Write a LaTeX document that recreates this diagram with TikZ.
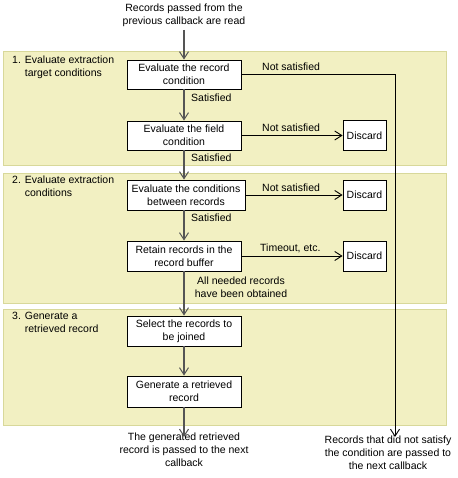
\documentclass[tikz,border=0pt]{standalone}
\usepackage{fontspec}
\setmainfont{Liberation Sans}
\usetikzlibrary{arrows.meta}
\definecolor{bandfill}{HTML}{F2F0C2}
\definecolor{banddraw}{HTML}{D8D89A}
\definecolor{flowgray}{HTML}{555555}
\tikzset{
  band/.style={fill=bandfill,draw=banddraw,line width=1pt},
  box/.style={draw=black,fill=white,line width=0.9pt,align=center,inner sep=0pt,minimum height=29pt},
  mainbox/.style={box,minimum width=114pt},
  discardbox/.style={box,minimum width=43pt,minimum height=30pt},
  lbl/.style={inner sep=0pt,font=\fontsize{10.5}{13}\selectfont},
  mainflow/.style={draw=flowgray,line width=1.4pt,-{Straight Barb[length=7pt,width=9pt,line width=1pt]}},
  sideflow/.style={draw=black,line width=0.9pt,-{Straight Barb[length=7pt,width=9pt,line width=0.9pt]}},
  every node/.append style={font=\fontsize{10.5}{13}\selectfont}
}
\begin{document}
\begin{tikzpicture}[x=1pt,y=-1pt]
\useasboundingbox (0,0) rectangle (457,478);
% bands
\path[band] (3,52) rectangle (446,166);
\path[band] (3,174) rectangle (446,303);
\path[band] (3,309) rectangle (446,425);
% band labels
\node[lbl,align=left,anchor=north west] (l1) at (12,56) {1. Evaluate extraction\\\phantom{1. }target conditions};
\node[lbl,align=left,anchor=north west] (l2) at (12,176) {2. Evaluate extraction\\\phantom{2. }conditions};
\node[lbl,align=left,anchor=north west] (l3) at (12,312) {3. Generate a\\\phantom{3. }retrieved record};
% top text
\node[lbl,align=center] (top) at (184,15.5) {Records passed from the\\previous callback are read};
\coordinate (topend) at (184,30);
% boxes
\node[mainbox] (b1) at (184,74.5) {Evaluate the record\\condition};
\node[mainbox] (b2) at (184,135.5) {Evaluate the field\\condition};
\node[box,minimum width=118pt,minimum height=30pt] (b3) at (186,195) {Evaluate the conditions\\between records};
\node[mainbox,minimum height=30pt] (b4) at (184,256) {Retain records in the\\record buffer};
\node[mainbox,minimum height=30pt] (b5) at (184,331) {Select the records to\\be joined};
\node[mainbox,minimum height=31pt] (b6) at (184,391.5) {Generate a retrieved\\record};
% discards
\node[discardbox] (d1) at (364.5,135.5) {Discard};
\node[discardbox] (d2) at (364.5,195) {Discard};
\node[discardbox] (d3) at (364.5,256) {Discard};
% bottom texts
\node[lbl,align=center,anchor=north] (bot) at (184,433) {\fontsize{10.5}{12.5}\selectfont The generated retrieved\\record is passed to the next\\callback};
\node[lbl,align=center,anchor=north] (botr) at (388,436) {\fontsize{10.5}{12.5}\selectfont Records that did not satisfy\\the condition are passed to\\the next callback};
\coordinate (rcorner) at (395,74.5);
\coordinate (rend) at (395,437);
\coordinate (bend) at (184,437);
% main flow
\draw[mainflow] (topend) -- (b1.north);
\draw[mainflow] (b1.south) -- (b2.north);
\draw[mainflow] (b2.south) -- (b2.south |- b3.north);
\draw[mainflow] (b2.south |- b3.south) -- (b4.north);
\draw[mainflow] (b4.south) -- (b5.north);
\draw[mainflow] (b5.south) -- (b6.north);
\draw[mainflow] (b6.south) -- (bend);
% side flows
\draw[sideflow] (b1.east) -- (rcorner) -- (rend);
\draw[sideflow] (b2.east) -- (d1.west);
\draw[sideflow] (b3.east) -- (d2.west);
\draw[sideflow] (b4.east) -- (d3.west);
% labels
\node[lbl,anchor=west] (n1) at (262,66.5) {Not satisfied};
\node[lbl,anchor=west] (n2) at (262,127.5) {Not satisfied};
\node[lbl,anchor=west] (n3) at (262,188) {Not satisfied};
\node[lbl,anchor=west] (t1) at (260,248.5) {Timeout, etc.};
\node[lbl,anchor=west] (s1) at (191,97.5) {Satisfied};
\node[lbl,anchor=west] (s2) at (191,157.5) {Satisfied};
\node[lbl,anchor=west] (s3) at (191,217.5) {Satisfied};
\node[lbl,align=center] (a1) at (241,287) {All needed records\\have been obtained};
\end{tikzpicture}
\end{document}
